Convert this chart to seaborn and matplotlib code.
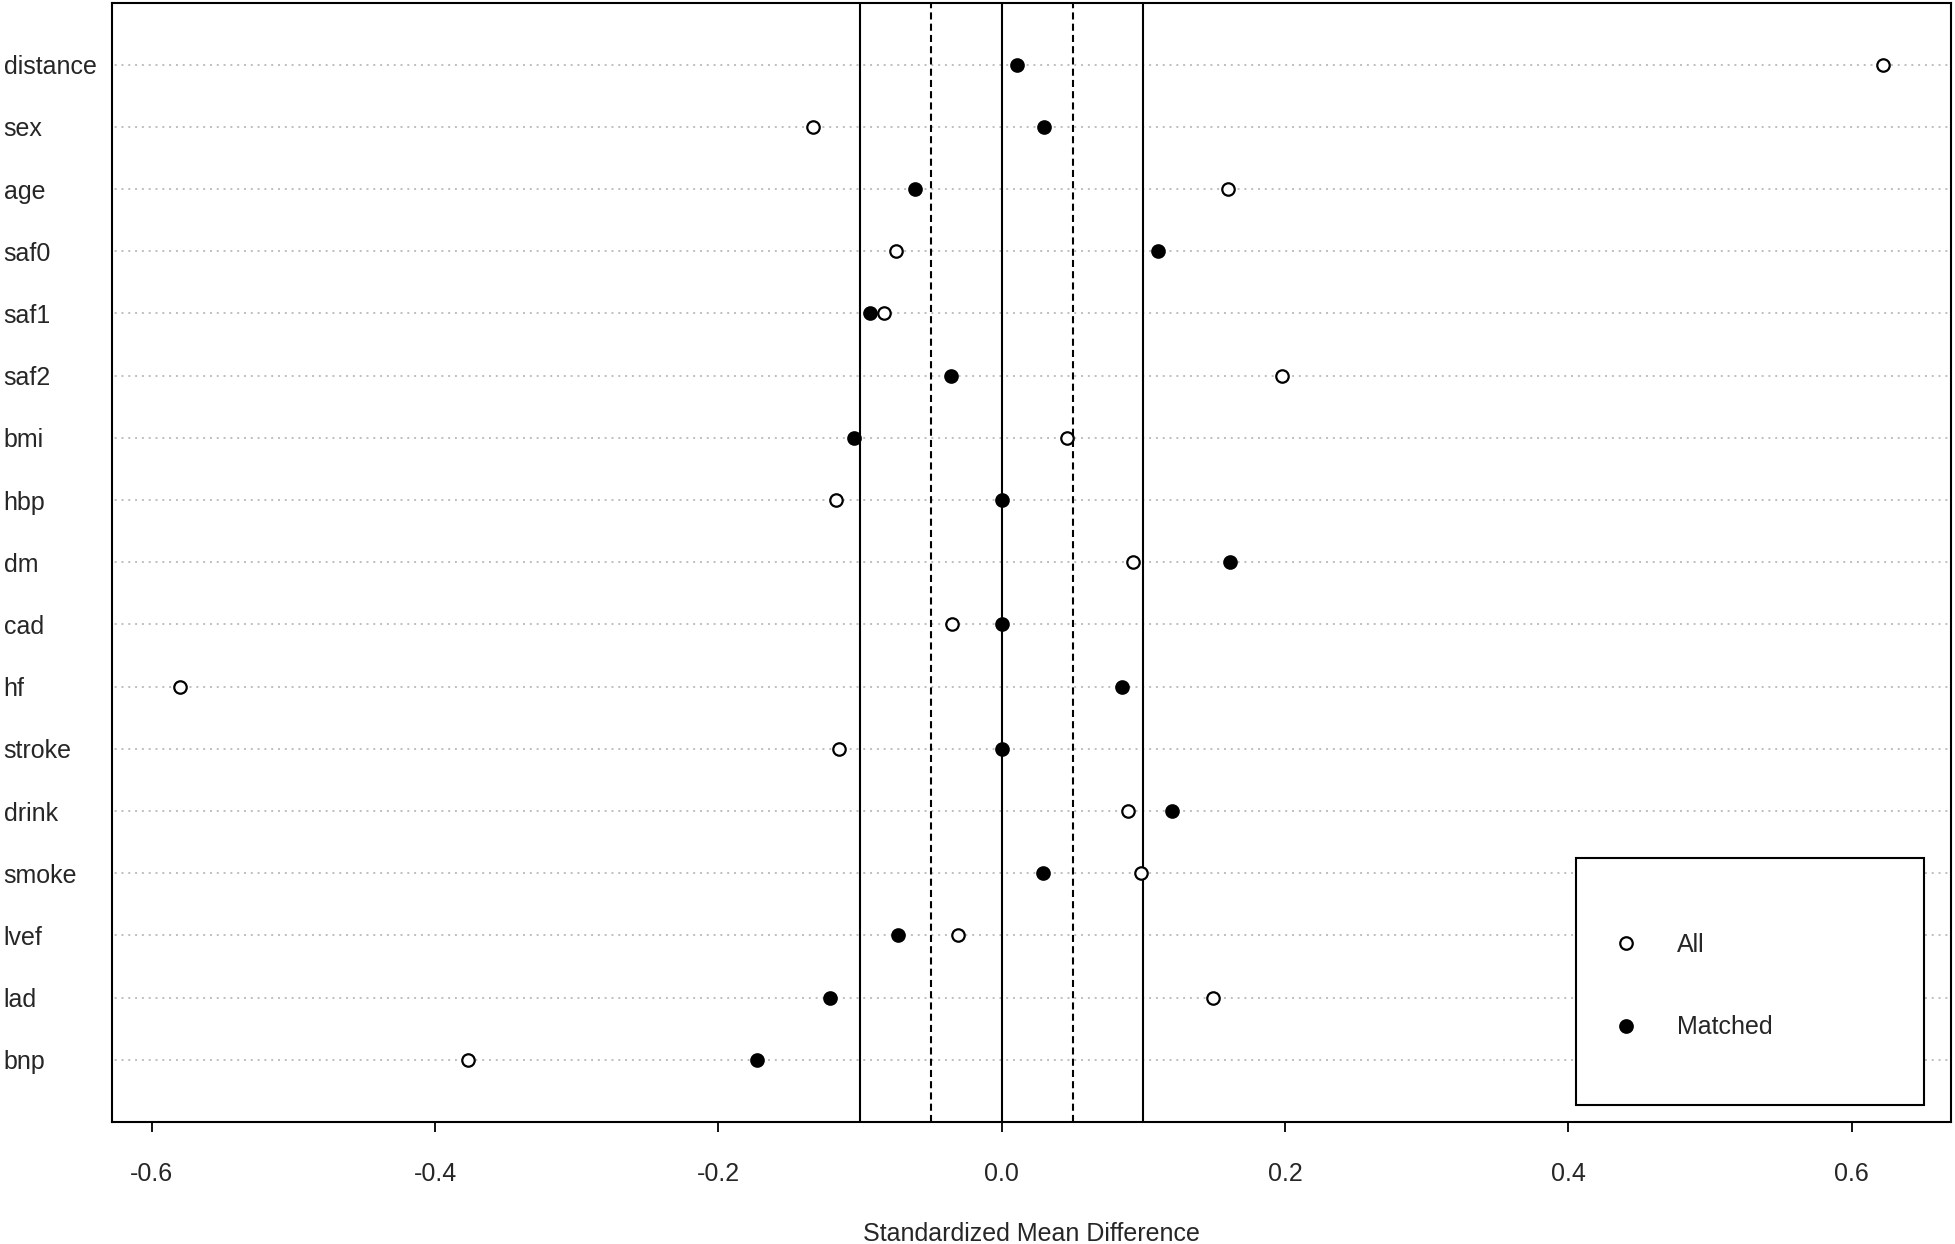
import matplotlib
matplotlib.use("Agg")
import matplotlib.pyplot as plt
from matplotlib.lines import Line2D
from matplotlib.patches import Rectangle
import matplotlib.transforms as mtransforms
import seaborn as sns
import pandas as pd

variables = ["distance", "sex", "age", "saf0", "saf1", "saf2", "bmi", "hbp", "dm",
             "cad", "hf", "stroke", "drink", "smoke", "lvef", "lad", "bnp"]
smd_all = [0.622, -0.133, 0.160, -0.075, -0.083, 0.198, 0.046, -0.117, 0.093,
           -0.035, -0.580, -0.115, 0.089, 0.098, -0.031, 0.149, -0.377]
smd_matched = [0.011, 0.030, -0.061, 0.110, -0.093, -0.036, -0.104, 0.000, 0.161,
               0.000, 0.085, 0.000, 0.120, 0.029, -0.073, -0.121, -0.173]
solid_refs = [-0.1, 0.0, 0.1]
dashed_refs = [-0.05, 0.05]
xticks = [-0.6, -0.4, -0.2, 0.0, 0.2, 0.4, 0.6]
xtick_labels = ["-0.6", "-0.4", "-0.2", "0.0", "0.2", "0.4", "0.6"]

sns.set_style("white")
plt.rcParams["font.family"] = ["Liberation Sans", "DejaVu Sans"]
plt.rcParams["axes.unicode_minus"] = False

W, H = 1955, 1244
n = len(variables)
ypos = [n - i for i in range(n)]
df_all = pd.DataFrame({"variable": variables, "y": ypos, "smd": smd_all})
df_m = pd.DataFrame({"variable": variables, "y": ypos, "smd": smd_matched})

fig = plt.figure(figsize=(W / 100, H / 100), dpi=100)
ax = fig.add_axes([112 / W, 1 - 1122 / H, (1951 - 112) / W, (1122 - 2.5) / H])

# dotted guide lines
ax.hlines(ypos, -1, 1, colors="#BEBEBE", linestyles=(0, (1, 2.5)), linewidth=1.4, zorder=1)
for v in solid_refs:
    ax.axvline(v, color="black", linewidth=1.5, zorder=2)
for v in dashed_refs:
    ax.axvline(v, color="black", linewidth=1.5, linestyle=(0, (3.4, 2)), zorder=2)

sns.scatterplot(data=df_all, x="smd", y="y", ax=ax, s=80, facecolor="white",
                edgecolor="black", linewidth=1.6, zorder=3, legend=False)
sns.scatterplot(data=df_m, x="smd", y="y", ax=ax, s=80, facecolor="black",
                edgecolor="black", linewidth=1.6, zorder=3, legend=False)

xmin, xmax = min(smd_all + smd_matched), max(smd_all + smd_matched)
rng = xmax - xmin
ax.set_xlim(xmin - 0.04 * rng, xmax + 0.04 * rng)
ax.set_ylim(0, n + 1)

ax.set_xticks(xticks)
ax.set_xticklabels(xtick_labels, fontsize=18)
ax.set_yticks(ypos)
ax.set_yticklabels(variables, fontsize=18)
shift = mtransforms.ScaledTranslation(0, -2 / 100, fig.dpi_scale_trans)
for lbl in ax.get_yticklabels():
    lbl.set_horizontalalignment("left")
    lbl.set_transform(lbl.get_transform() + shift)
ax.tick_params(axis="y", length=0, pad=78)
ax.tick_params(axis="x", bottom=True, length=7, width=1.3, direction="out", pad=22, color="black")
ax.set_xlabel("Standardized Mean Difference", fontsize=18, labelpad=26)
ax.set_ylabel("")
for sp in ax.spines.values():
    sp.set_visible(True)
    sp.set_color("black")
    sp.set_linewidth(1.5)

# legend box
fig.add_artist(Rectangle((1576 / W, 1 - 1105 / H), 348 / W, 247 / H,
                         transform=fig.transFigure, fill=True, facecolor="white",
                         edgecolor="black", linewidth=1.5, zorder=4))
handles = [
    Line2D([], [], linestyle="none", marker="o", markersize=9, markerfacecolor="white",
           markeredgecolor="black", markeredgewidth=1.6, label="All"),
    Line2D([], [], linestyle="none", marker="o", markersize=9, markerfacecolor="black",
           markeredgecolor="black", markeredgewidth=1.6, label="Matched"),
]
leg = fig.legend(handles=handles, loc="upper left",
                 bbox_to_anchor=(1613.5 / W, 1 - 933 / H),
                 bbox_transform=fig.transFigure, fontsize=18, frameon=False,
                 borderpad=0, labelspacing=2.34, handlelength=1.0,
                 handletextpad=1.54, borderaxespad=0)
leg.set_zorder(5)

fig.savefig("out.png", dpi=100)
